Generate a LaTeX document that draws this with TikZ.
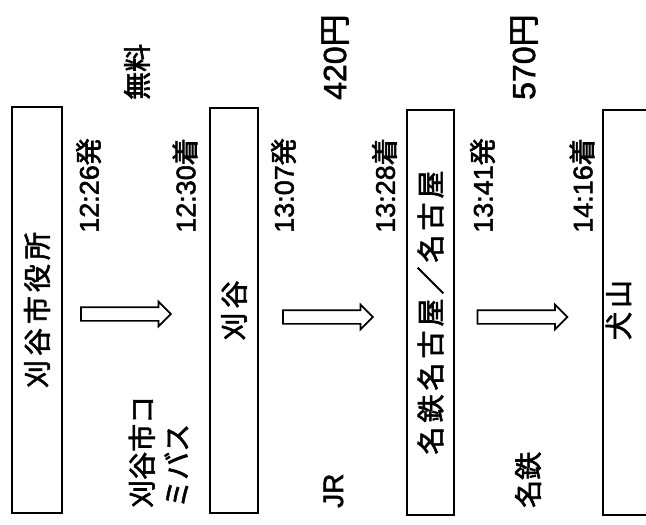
\documentclass[tikz,border=0pt]{standalone}
\usepackage{fontspec}
\setmainfont{Liberation Sans}[FakeBold=1.8]
\newfontfamily\jp{Noto Sans CJK JP}[FakeBold=2.2]
\usetikzlibrary{shapes.arrows}
\newcommand\kg{\kern4pt}
\newcommand\boxfont{\jp\fontsize{28}{33}\selectfont}
\newcommand\timefont{\fontsize{27}{33}\selectfont}
\newcommand\farefont{\fontsize{32}{38}\selectfont}
\newcommand\modefont{\fontsize{28}{35}\selectfont}
\begin{document}
\begin{tikzpicture}[x=1pt,y=-1pt,
  box/.style={draw, line width=1.8pt, inner sep=0pt},
  harrow/.style={single arrow, draw, line width=1.7pt, minimum height=90pt,
    inner sep=6pt, single arrow head extend=5.5pt},
  lbl/.style={rotate=90, inner sep=0pt, anchor=west},
  tlbl/.style={lbl, font=\timefont},
  flbl/.style={lbl, font=\farefont},
  mlbl/.style={lbl, font=\modefont, align=left}]
\useasboundingbox (0,0) rectangle (646,525);
% station boxes
\node[box, minimum width=50pt, minimum height=406pt] (b1) at (37,310)
  {\rotatebox{90}{\boxfont 刈\kg 谷\kg 市\kg 役\kg 所}};
\node[box, minimum width=48pt, minimum height=405pt] (b2) at (234,310.5)
  {\rotatebox{90}{\boxfont 刈\kg 谷}};
\node[box, minimum width=47pt, minimum height=405pt] (b3) at (430.5,312.5)
  {\rotatebox{90}{\boxfont 名\kg 鉄\kg 名\kg 古\kg 屋\kg ／\kg 名\kg 古\kg 屋}};
\node[box, minimum width=56pt, minimum height=405pt] (b4) at (631,312.5) {};
\node[rotate=90, inner sep=0pt] (t4) at (618.5,310) {\boxfont 犬\kg 山};
% hollow arrows
\node[harrow] (a1) at (122.5,314) {};
\node[harrow] (a2) at (324.5,317) {};
\node[harrow] (a3) at (519,317) {};
% times
\node[tlbl] (d1) at (88.5,233) {12:26{\jp 発}};
\node[tlbl] (r1) at (185,233) {12:30{\jp 着}};
\node[tlbl] (d2) at (283.5,233) {13:07{\jp 発}};
\node[tlbl] (r2) at (384.5,233) {13:28{\jp 着}};
\node[tlbl] (d3) at (482.5,233) {13:41{\jp 発}};
\node[tlbl] (r3) at (582,233) {14:16{\jp 着}};
% fares
\node[lbl, font=\modefont] (f1) at (137,100) {\jp 無料};
\node[flbl] (f2) at (335,100) {420{\jp 円}};
\node[flbl] (f3) at (524,100) {570{\jp 円}};
% modes
\node[mlbl] (m1) at (158.5,508) {\jp 刈谷市コ\\\jp ミバス};
\node[mlbl] (m2) at (333.5,508) {JR};
\node[mlbl] (m3) at (528,508) {\jp 名鉄};
\end{tikzpicture}
\end{document}
